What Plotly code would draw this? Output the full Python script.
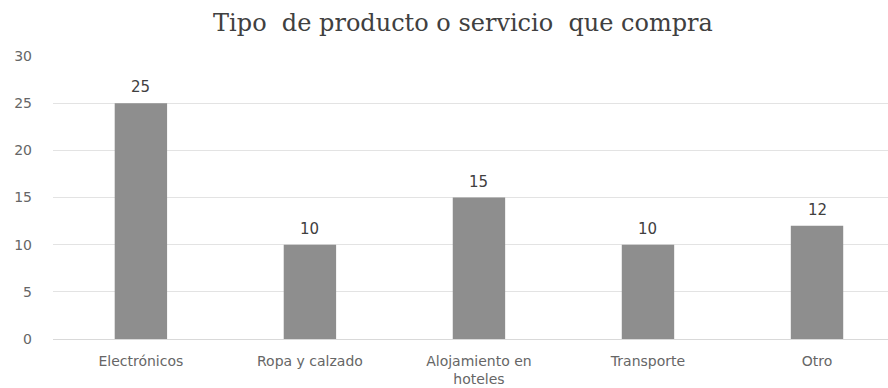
import plotly.graph_objects as go

categorias = ["Electrónicos", "Ropa y calzado", "Alojamiento en<br>hoteles", "Transporte", "Otro"]
valores = [25, 10, 15, 10, 12]
y_ticks = [0, 5, 10, 15, 20, 25, 30]

posiciones = list(range(len(categorias)))

fig = go.Figure(
    go.Bar(
        x=posiciones,
        y=valores,
        width=0.31,
        marker=dict(color="#8e8e8e", line=dict(width=0)),
        hoverinfo="skip",
    )
)

# value labels sitting a little above each bar
for xi, v in zip(posiciones, valores):
    fig.add_annotation(
        x=xi,
        y=v,
        text=str(v),
        showarrow=False,
        xanchor="center",
        yanchor="bottom",
        yshift=5,
        font=dict(family="DejaVu Sans", size=15, color="#404040"),
    )

fig.update_layout(
    width=888,
    height=388,
    margin=dict(l=53, r=0, t=56, b=49),
    paper_bgcolor="white",
    plot_bgcolor="white",
    showlegend=False,
    title=dict(
        text="Tipo\u00a0 de producto o servicio\u00a0 que compra",
        x=463 / 888,
        xref="container",
        xanchor="center",
        y=1 - 23 / 388,
        yref="container",
        yanchor="middle",
        font=dict(family="DejaVu Serif", size=24, color="#404040"),
    ),
)

fig.update_xaxes(
    tickmode="array",
    tickvals=posiciones,
    ticktext=categorias,
    range=[-0.52, 4.42],
    showgrid=False,
    showline=False,
    ticks="",
    ticklabelstandoff=12,
    tickfont=dict(family="DejaVu Sans", size=14, color="#666666"),
)

fig.update_yaxes(
    range=[0, 30],
    tickmode="array",
    tickvals=y_ticks,
    showgrid=True,
    gridcolor="#e3e3e3",
    gridwidth=1,
    zeroline=True,
    zerolinecolor="#d9d9d9",
    zerolinewidth=1,
    ticks="",
    ticklabelstandoff=20,
    tickfont=dict(family="DejaVu Sans", size=14, color="#666666"),
)

fig.write_html("out.html")
